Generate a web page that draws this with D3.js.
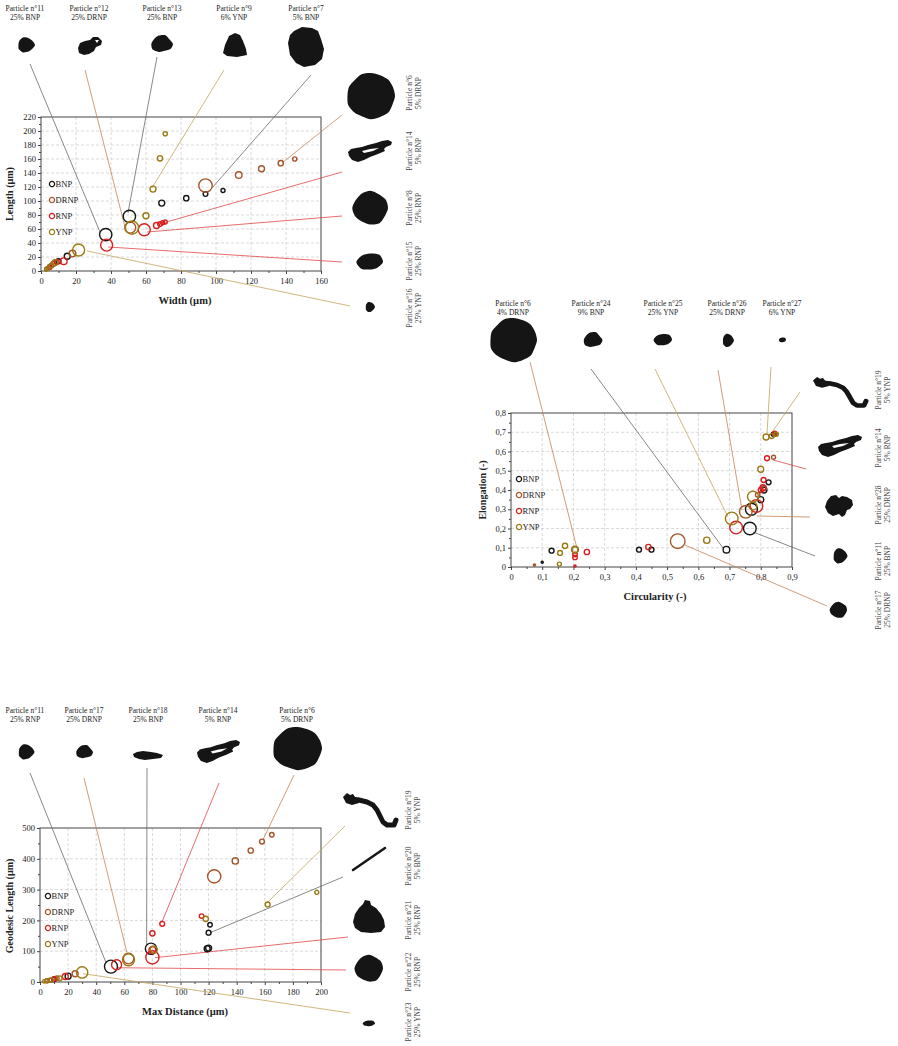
<!DOCTYPE html>
<html>
<head>
<meta charset="utf-8">
<script src="https://cdn.jsdelivr.net/npm/d3@7"></script>
<style>
body{margin:0;background:#fff}
svg{display:block}
text{font-family:"Liberation Serif","Times New Roman",serif;fill:#222}
</style>
</head>
<body>
<svg id="canvas"></svg>
<script>
// ---- data : [x, y, size] per particle family ----
let categories=['BNP','DRNP','RNP','YNP']

// width vs length
let wlBNP=[[37,52,38],[50.5,78,38],[69,97,9],[83,104,7],[94,110,5.5],[104,115,4],[15,21,9],[10,14,6],[6,8,4]]
let wlDRNP=[[94,122,45],[113,137,11],[126,146,9],[137,154,7],[145,160,4.5],[18,25,11],[51,62,30],[5,6,5],[7,10,6],[3,3,3]]
let wlRNP=[[37.5,37,36],[59,59,36],[66,65,9],[68,67,5.5],[69.5,69,4],[71,70,4],[13,14,11],[9,13,6],[5,5,4]]
let wlYNP=[[52,62,44],[60,79,9],[64,117,9],[68,161,7],[71,196,4.5],[21.5,30,36],[8,12,9],[4,4,4],[3,2,3],[6,8,5]]

// circularity vs elongation
let ceBNP=[[0.13,0.085,6],[0.10,0.025,1],[0.41,0.09,6],[0.45,0.09,6],[0.69,0.09,11],[0.765,0.20,40],[0.77,0.30,36],[0.80,0.35,9],[0.81,0.40,9],[0.825,0.44,6],[0.84,0.69,4]]
let ceDRNP=[[0.075,0.01,1],[0.205,0.09,12],[0.534,0.134,53],[0.752,0.287,40],[0.841,0.57,4],[0.845,0.69,4],[0.81,0.41,6],[0.79,0.375,5]]
let ceRNP=[[0.205,0.005,1],[0.205,0.05,5],[0.205,0.065,5],[0.243,0.078,7],[0.44,0.104,7],[0.721,0.205,40],[0.786,0.317,40],[0.809,0.452,6],[0.807,0.412,9],[0.82,0.565,6],[0.845,0.695,4],[0.80,0.40,6]]
let ceYNP=[[0.155,0.015,4],[0.157,0.073,6],[0.173,0.11,7],[0.205,0.09,9],[0.627,0.139,10],[0.707,0.252,40],[0.775,0.365,30],[0.775,0.317,16],[0.80,0.508,9],[0.817,0.675,9],[0.835,0.68,6],[0.85,0.69,4]]

// max distance vs geodesic length
let mgBNP=[[50.5,50,42],[79,108,32],[120,110,9],[119,108,9],[120,160,6],[121,186,5],[20,19,9],[10,9,5]]
let mgDRNP=[[124,343,44],[139,393,10],[150,427,7],[158,456,6],[165,478,5],[63,76,28],[25,27,9],[12,12,5],[7,6,4]]
let mgRNP=[[54.5,56,25],[80,80,44],[80,158,7],[87,189,6],[115,214,5],[80,104,12],[18,18,9],[10,10,5],[5,4,4]]
let mgYNP=[[63,72,36],[30,31,32],[81,105,12],[118,205,7],[162,252,6],[197,291,4],[3,2,3],[5,4,4],[8,6,5],[14,12,6]]

// particle call-outs: [number, share, line family, leader end in data units]
let wlNotes=[['11','25% BNP','BNP',[33.7,55.7]],['12','25% DRNP','DRNP',[48,62.9]],['13','25% BNP','BNP',[49.7,82.9]],
  ['9','6% YNP','YNP',[63.4,118.6]],['7','5% BNP','BNP',[97.7,118.6]],['6','5% DRNP','DRNP',[137.7,154.3]],
  ['14','5% RNP','RNP',[69.7,68.6]],['8','25% RNP','RNP',[60.6,55.7]],['15','25% RNP','RNP',[38.3,34.3]],['16','25% YNP','YNP',[26.3,28.6]]]
let ceNotes=[['6','4% DRNP','DRNP',[0.211,0.099]],['24','9% BNP','BNP',[0.679,0.099]],['25','25% YNP','YNP',[0.695,0.26]],
  ['26','25% DRNP','DRNP',[0.74,0.296]],['27','6% YNP','YNP',[0.82,0.696]],['19','5% YNP','YNP',[0.836,0.70]],
  ['14','5% RNP','RNP',[0.839,0.556]],['28','25% DRNP','DRNP',[0.788,0.265]],['11','25% BNP','BNP',[0.775,0.182]],['17','25% DRNP','DRNP',[0.557,0.114]]]
let mgNotes=[['11','25% RNP','BNP',[47,62.7]],['17','25% DRNP','DRNP',[61.9,95]],['18','25% BNP','BNP',[75.9,121]],
  ['14','5% RNP','RNP',[86.6,192.5]],['6','5% DRNP','DRNP',[158.7,462]],['19','5% YNP','YNP',[161.6,257]],
  ['20','5% BNP','BNP',[121,160]],['21','25% RNP','RNP',[81.9,79]],['22','25% RNP','RNP',[54.8,46.4]],['23','25% YNP','YNP',[30.6,27]]]

// ---- styling ----
let markColor={BNP:'#161616',DRNP:'#a5562a',RNP:'#d81e1e',YNP:'#9a7a12'}
let lineColor={BNP:'#6a6a6a',DRNP:'#c48458',RNP:'#e24848',YNP:'#c4a55c'}

// silhouettes (own box units)
let radial=(r)=>r.map((v,i)=>{let a=i/r.length*2*Math.PI;return [1+v*Math.cos(a),1+v*Math.sin(a)]})
let shapes={
  round:{w:2,h:2,curve:true,pts:radial([1,.97,1.02,.99,1.01,.96,1,1.03,.98,1,.97,1.02,1,.98,1.01,.99])},
  round2:{w:2,h:2,curve:true,pts:radial([1,.95,1.03,.97,.93,1,1.04,.96,.99,1.02,.94,1])},
  blobA:{w:2,h:2,curve:true,pts:radial([1,.86,.92,1.04,.98,.84,.93,1.06,.95,.9])},
  blobB:{w:2,h:2,curve:true,pts:radial([1,.95,.8,.92,1.05,.97,.9,.98,1.03,.85])},
  blobE:{w:2,h:2,curve:true,pts:radial([1,.8,.75,.95,1.05,.9,.85,1.02])},
  p12:{w:24,h:18,pts:[[0,11],[2,6],[7,4],[12,3],[15,0],[20,0],[24,4],[23,8],[18,10],[16,14],[11,17],[6,18],[1,16]],
       hole:[[17,3],[21,3],[19,6]]},
  p9:{w:24,h:24,pts:[[6,3],[12,0],[17,2],[20,8],[23,16],[24,22],[14,24],[4,23],[0,20],[2,12]]},
  p7:{w:36,h:40,pts:[[6,4],[14,0],[24,1],[30,4],[33,12],[36,22],[34,32],[27,38],[16,40],[8,36],[2,28],[0,16],[2,8]]},
  p14:{w:44,h:22,pts:[[0,12],[3,9],[8,8],[14,7],[20,5],[28,3],[34,1],[40,0],[44,2],[43,5],[38,7],[36,9],[37,11],[30,14],[22,17],[16,20],[10,22],[4,20],[1,16]],
       hole:[[14,11],[22,9],[31,8],[25,11],[16,13]]},
  p18:{w:30,h:10,pts:[[0,4],[4,2],[10,1],[18,2],[24,3],[30,5],[28,8],[20,9],[12,10],[6,9],[1,7]]},
  p28:{w:28,h:22,pts:[[2,6],[6,1],[11,0],[14,3],[17,1],[22,2],[27,5],[28,10],[25,14],[22,15],[20,20],[17,22],[14,19],[8,21],[3,18],[0,12]]},
  p21:{w:32,h:33,pts:[[10,4],[12,0],[17,1],[18,5],[23,8],[28,14],[31,20],[32,27],[28,32],[18,33],[8,32],[2,28],[0,22],[2,14],[6,8]]},
  p19:{w:54,h:37,pts:[[0,4],[4,0],[7,2],[10,1],[12,4],[17,5],[16,10],[9,12],[3,10]],
       stroke:[[8,7],[16,7],[24,9],[30,12],[34,17],[37,23],[40,29],[44,32],[51,32],[53,27]],sw:5},
  p20:{w:32,h:22,stroke:[[0,22],[32,0]],sw:2.5}
}

// ---- layout slots (pixel positions) ----
let wlSlots=[
  {top:true,lx:25,ly:10.5,shape:'blobA',box:[26,45,18,15],a:[30,64]},
  {top:true,lx:89,ly:10.5,shape:'p12',box:[90,46,24,18],a:[85,70]},
  {top:true,lx:162,ly:10.5,shape:'blobB',box:[162,44,22,18],a:[157,57]},
  {top:true,lx:234,ly:10.5,shape:'p9',box:[235,45,24,24],a:[224,70]},
  {top:true,lx:306,ly:10.5,shape:'p7',box:[306,47,36,40],a:[311,75]},
  {lx:412,ly:93,shape:'round',box:[371,96,48,46],a:[342,115]},
  {lx:412,ly:151,shape:'p14',box:[370,151,44,22],a:[342,172]},
  {lx:412,ly:208,shape:'round2',box:[370.5,208,35,34],a:[342,216]},
  {lx:412,ly:261,shape:'blobE',box:[370,262,26,20],a:[342,262]},
  {lx:412,ly:308,shape:'blobA',box:[370,307,10,10],a:[350,306]}
]
let ceSlots=[
  {top:true,lx:513,ly:306,shape:'round',box:[513.5,340,47,44],a:[530,362]},
  {top:true,lx:591,ly:306,shape:'blobB',box:[593,340,19,16],a:[591,369]},
  {top:true,lx:663,ly:306,shape:'blobE',box:[663,340,18,14],a:[655,369]},
  {top:true,lx:727,ly:306,shape:'blobA',box:[728,340.5,12,13],a:[718,370]},
  {top:true,lx:782,ly:306,shape:'blobE',box:[782.5,340,7,6],a:[771,367]},
  {lx:881,ly:390,shape:'p19',box:[840,393.5,54,33],a:[800,392]},
  {lx:881,ly:448,shape:'p14',box:[840,446,44,22],a:[806,469]},
  {lx:881,ly:505,shape:'p28',box:[839,506,28,22],a:[810,517]},
  {lx:881,ly:561,shape:'blobA',box:[840,556,15,15],a:[815,556]},
  {lx:881,ly:610,shape:'round2',box:[838.5,610,17,16],a:[827,606]}
]
let mgSlots=[
  {top:true,lx:25,ly:713,shape:'blobA',box:[26,752,17,15],a:[30,773]},
  {top:true,lx:84,ly:713,shape:'blobB',box:[84.5,752,17,14],a:[84,778]},
  {top:true,lx:148,ly:713,shape:'p18',box:[148,755,30,10],a:[147,768]},
  {top:true,lx:218,ly:713,shape:'p14',box:[218.5,751.5,43,23],a:[219,783]},
  {top:true,lx:297,ly:713,shape:'round',box:[297.5,748.5,49,43],a:[294,775]},
  {lx:411,ly:810,shape:'p19',box:[370,811.5,54,37],a:[345,826]},
  {lx:411,ly:866,shape:'p20',box:[369,859,32,22],a:[343,877]},
  {lx:411,ly:920,shape:'p21',box:[369,916.5,32,33],a:[348,937]},
  {lx:411,ly:972,shape:'round2',box:[369,968.5,28,27],a:[346,970]},
  {lx:411,ly:1022,shape:'blobE',box:[369,1023.5,12,7],a:[350,1013]}
]

let comma=(d)=>d===0?'0':d3.format('.1f')(d).replace('.',',')

let charts=[
  {plot:{x:41,y:117,w:280,h:154},xDomain:[0,160],yDomain:[0,220],xN:8,yN:11,fmt:d3.format('d'),
   xTitle:'Width  (µm)',yTitle:'Length (µm)',xT:[185,303.5],yT:[13,194],legend:[52,184],
   series:[wlBNP,wlDRNP,wlRNP,wlYNP],notes:wlNotes,slots:wlSlots},
  {plot:{x:511,y:413,w:281,h:154},xDomain:[0,0.9],yDomain:[0,0.8],xN:9,yN:8,fmt:comma,
   xTitle:'Circularity (-)',yTitle:'Elongation (-)',xT:[655,599.5],yT:[486,490],legend:[519,479],
   series:[ceBNP,ceDRNP,ceRNP,ceYNP],notes:ceNotes,slots:ceSlots},
  {plot:{x:40,y:828,w:281,h:154},xDomain:[0,200],yDomain:[0,500],xN:10,yN:5,fmt:d3.format('d'),
   xTitle:'Max Distance (µm)',yTitle:'Geodesic Length (µm)',xT:[185,1015],yT:[13,906],legend:[48,896],
   series:[mgBNP,mgDRNP,mgRNP,mgYNP],notes:mgNotes,slots:mgSlots}
]

let canvas=d3.select('#canvas').attr('width',898).attr('height',1046)
let rScale=d3.scaleSqrt().domain([0,49]).range([0,7])

let drawShape=(g,slot)=>{
  let s=shapes[slot.shape]
  let [cx,cy,w,h]=slot.box
  let sg=g.append('g')
    .attr('transform',`translate(${cx-w/2},${cy-h/2}) scale(${w/s.w},${h/s.h})`)
  if(s.pts){
    let line=d3.line().curve(s.curve?d3.curveCardinalClosed.tension(0.2):d3.curveLinearClosed)
    sg.append('path').attr('d',line(s.pts)).attr('fill','#151515')
  }
  if(s.hole){
    sg.append('path').attr('d',d3.line().curve(d3.curveLinearClosed)(s.hole)).attr('fill','#fff')
  }
  if(s.stroke){
    sg.append('path').attr('d',d3.line()(s.stroke)).attr('fill','none')
      .attr('stroke','#151515').attr('stroke-width',s.sw)
      .attr('stroke-linecap','round').attr('stroke-linejoin','round')
  }
}

let drawChart=(c)=>{
  let g=canvas.append('g')
  let p=c.plot
  let x=d3.scaleLinear().domain(c.xDomain).range([p.x,p.x+p.w])
  let y=d3.scaleLinear().domain(c.yDomain).range([p.y+p.h,p.y])
  let xt=d3.ticks(c.xDomain[0],c.xDomain[1],c.xN)
  let yt=d3.ticks(c.yDomain[0],c.yDomain[1],c.yN)

  // grid
  g.append('g').selectAll('line').data(xt.slice(1,-1)).enter().append('line')
    .attr('x1',d=>x(d)).attr('x2',d=>x(d)).attr('y1',p.y).attr('y2',p.y+p.h)
    .attr('stroke','#cfcfcf').attr('stroke-width',0.8).attr('stroke-dasharray','3,2')
  g.append('g').selectAll('line').data(yt.slice(1,-1)).enter().append('line')
    .attr('y1',d=>y(d)).attr('y2',d=>y(d)).attr('x1',p.x).attr('x2',p.x+p.w)
    .attr('stroke','#cfcfcf').attr('stroke-width',0.8).attr('stroke-dasharray','3,2')

  // axes
  let xStep=xt[1]-xt[0], yStep=yt[1]-yt[0]
  let xMinor=xt.slice(0,-1).map(d=>d+xStep/2)
  let yMinor=yt.slice(0,-1).map(d=>d+yStep/2)
  let xa=g.append('g').attr('transform',`translate(0,${p.y+p.h})`)
    .call(d3.axisBottom(x).tickValues(xt).tickSize(3).tickPadding(2).tickFormat(c.fmt))
  g.append('g').attr('transform',`translate(0,${p.y+p.h})`)
    .call(d3.axisBottom(x).tickValues(xMinor).tickSize(2).tickFormat(''))
  let ya=g.append('g').attr('transform',`translate(${p.x},0)`)
    .call(d3.axisLeft(y).tickValues(yt).tickSize(3).tickPadding(2).tickFormat(c.fmt))
  g.append('g').attr('transform',`translate(${p.x},0)`)
    .call(d3.axisLeft(y).tickValues(yMinor).tickSize(2).tickFormat(''))
  g.selectAll('.domain').remove()
  g.selectAll('.tick line').attr('stroke','#444')
  g.selectAll('.tick text').style('font-family','"Liberation Serif",serif').style('font-size','8.5px').attr('fill','#222')
  xa.selectAll('text').attr('dy','0.9em')

  g.append('rect').attr('x',p.x).attr('y',p.y).attr('width',p.w).attr('height',p.h)
    .attr('fill','none').attr('stroke','#444').attr('stroke-width',1)

  g.append('text').attr('x',c.xT[0]).attr('y',c.xT[1]).attr('text-anchor','middle')
    .style('font-size','10.5px').style('font-weight','bold').text(c.xTitle)
  g.append('text').attr('transform',`translate(${c.yT[0]},${c.yT[1]}) rotate(-90)`).attr('text-anchor','middle')
    .style('font-size','10px').style('font-weight','bold').text(c.yTitle)

  // leader lines
  g.append('g').selectAll('line').data(c.notes).enter().append('line')
    .attr('x1',(d,i)=>c.slots[i].a[0]).attr('y1',(d,i)=>c.slots[i].a[1])
    .attr('x2',d=>x(d[3][0])).attr('y2',d=>y(d[3][1]))
    .attr('stroke',d=>lineColor[d[2]]).attr('stroke-width',0.8)

  // markers
  c.series.forEach((values,k)=>{
    g.append('g').selectAll('circle').data(values).enter().append('circle')
      .attr('cx',d=>x(d[0])).attr('cy',d=>y(d[1])).attr('r',d=>rScale(d[2]))
      .attr('fill','none').attr('stroke',markColor[categories[k]])
      .attr('stroke-width',d=>d[2]<=1.5?1.6:1.4)
  })

  // legend
  let lg=g.append('g').selectAll('g').data(categories).enter().append('g')
    .attr('transform',(d,i)=>`translate(${c.legend[0]},${c.legend[1]+i*16})`)
  lg.append('circle').attr('r',2.6).attr('fill','none').attr('stroke',d=>markColor[d]).attr('stroke-width',1.3)
  lg.append('text').attr('x',3.6).attr('y',3).style('font-size','8.5px').text(d=>d)

  // particles
  c.slots.forEach((slot,i)=>{
    let note=c.notes[i]
    drawShape(g,slot)
    if(slot.top){
      let t=g.append('text').attr('text-anchor','middle').style('font-size','7.5px')
      t.append('tspan').attr('x',slot.lx).attr('y',slot.ly).text('Particle n°'+note[0])
      t.append('tspan').attr('x',slot.lx).attr('y',slot.ly+9).text(note[1])
    }else{
      let t=g.append('text').attr('text-anchor','middle').style('font-size','7.5px').style('fill','#444')
        .attr('transform',`translate(${slot.lx},${slot.ly}) rotate(-90)`)
      t.append('tspan').attr('x',0).attr('y',0).text('Particle n°'+note[0])
      t.append('tspan').attr('x',0).attr('y',8.5).text(note[1])
    }
  })
}

charts.forEach(drawChart)
</script>
</body>
</html>
